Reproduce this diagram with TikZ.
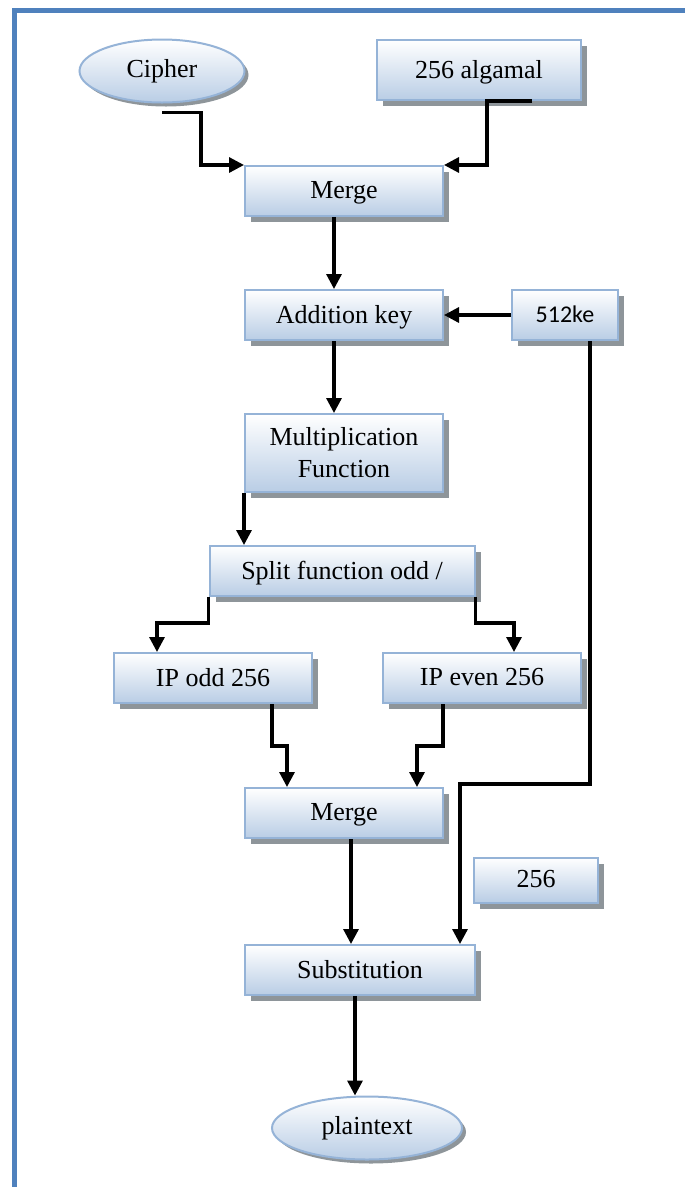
\documentclass[tikz,border=0pt]{standalone}
\usepackage{fontspec}
\setmainfont{Liberation Serif}
\newfontfamily\keyfont{Carlito}
\usetikzlibrary{shapes.geometric, arrows.meta, shadows, calc}
\definecolor{boxline}{HTML}{95B3D7}
\definecolor{boxfill}{HTML}{B9CDE5}
\definecolor{shadowgray}{HTML}{8E959A}
\definecolor{frameblue}{HTML}{4F81BD}

\begin{document}
\begin{tikzpicture}[
    x=1pt, y=-1pt,
    every node/.style={font=\fontsize{26}{32}\selectfont},
    proc/.style={rectangle, draw=boxline, line width=2pt, top color=white, bottom color=boxfill,
        minimum width=198, minimum height=50, inner sep=0pt, text depth=2pt,
        drop shadow={shadow xshift=6pt, shadow yshift=-6pt, fill=shadowgray, opacity=1}},
    term/.style={ellipse, draw=boxline, line width=2pt, top color=white, bottom color=boxfill,
        minimum width=165, minimum height=63, inner sep=0pt,
        drop shadow={shadow xshift=4pt, shadow yshift=-4pt, fill=shadowgray, opacity=1}},
    arr/.style={-{Triangle[length=15pt, width=15pt]}, line width=3.2pt},
    frame/.style={draw=frameblue, line width=5pt}
]
    \useasboundingbox (0,0) rectangle (685,1187);
    \draw[frame] (14,1187) -- (14,10) -- (685,10);

    \node[term]                                   (cipher)  at (162,71)   {Cipher};
    \node[proc, minimum width=204, minimum height=60] (algamal) at (479,70) {256 algamal};
    \node[proc]                                   (merge1)  at (344,191)  {Merge};
    \node[proc]                                   (add)     at (344,315)  {Addition key};
    \node[proc, minimum width=106, font=\keyfont\fontsize{24}{28}\selectfont] (key) at (565,315) {512ke};
    \node[proc, minimum height=78, align=center]  (mult)    at (344,453)  {Multiplication\\Function};
    \node[proc, minimum width=265]                (split)   at (342,571)  {Split function odd /};
    \node[proc]                                   (ipodd)   at (213,678)  {IP odd 256};
    \node[proc]                                   (ipeven)  at (482,678)  {IP even 256};
    \node[proc]                                   (merge2)  at (344,813)  {Merge};
    \node[proc, minimum width=124, minimum height=45] (k256) at (536,880) {256};
    \node[proc, minimum width=230]                (subst)   at (360,970)  {Substitution};
    \node[term, minimum width=190]                (plain)   at (367,1128) {plaintext};

    \draw[arr] ([yshift=-9pt]cipher.south) -- ++(39,0) |- (merge1.north west);
    \draw[arr] ([xshift=53pt]algamal.south) -- ([xshift=8pt]algamal.south) |- (merge1.north east);
    \draw[arr] ([xshift=-10pt]merge1.south) -- ([xshift=-10pt]add.north);
    \draw[arr] (key.west) -- (add.east);
    \draw[arr] ([xshift=-10pt]add.south) -- ([xshift=-10pt]mult.north);
    \draw[arr] (mult.south west) -- (mult.south west |- split.north);
    \draw[arr] (split.south west) -- ++(0,26) -| ([xshift=-56pt]ipodd.north);
    \draw[arr] (split.south east) -- ++(0,26) -| ([xshift=32pt]ipeven.north);
    \draw[arr] ([xshift=59pt]ipodd.south) -- ++(0,42) -| ([xshift=-57pt]merge2.north);
    \draw[arr] ([xshift=-39pt]ipeven.south) -- ++(0,42) -| ([xshift=73pt]merge2.north);
    \draw[arr] ([xshift=25pt]key.south) -- ++(0,443) -| ([xshift=100pt]subst.north);
    \draw[arr] ([xshift=7pt]merge2.south) -- ([xshift=7pt]merge2.south |- subst.north);
    \draw[arr] ([xshift=-5pt]subst.south) -- ([xshift=-5pt]subst.south |- plain.north);
\end{tikzpicture}
\end{document}
